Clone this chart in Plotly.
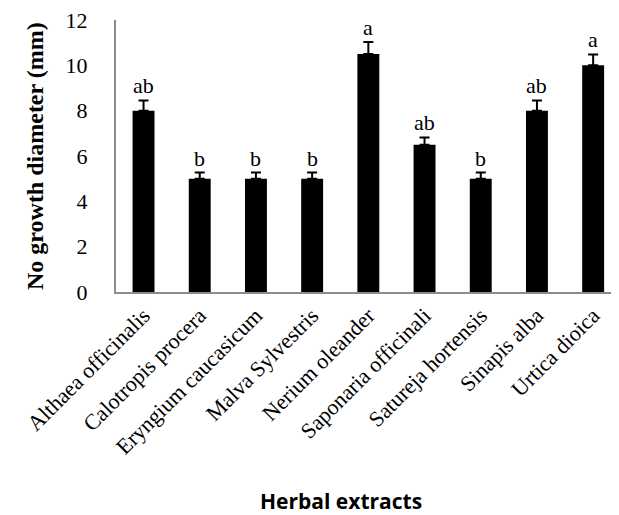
import plotly.graph_objects as go

categories = ["Althaea officinalis", "Calotropis procera", "Eryngium caucasicum",
              "Malva Sylvestris", "Nerium oleander", "Saponaria officinali",
              "Satureja hortensis", "Sinapis alba", "Urtica dioica"]
values = [8.0, 5.0, 5.0, 5.0, 10.5, 6.5, 5.0, 8.0, 10.0]
errors = [0.45, 0.27, 0.27, 0.27, 0.53, 0.32, 0.27, 0.45, 0.48]
letters = ["ab", "b", "b", "b", "a", "ab", "b", "ab", "a"]
y_ticks = [0, 2, 4, 6, 8, 10, 12]

serif = "Liberation Serif, Times New Roman, serif"

fig = go.Figure()
fig.add_trace(go.Bar(
    x=categories, y=values,
    marker=dict(color="black", line=dict(width=0)),
    width=0.39,
    error_y=dict(type="data", array=errors, arrayminus=[0]*len(errors),
                 symmetric=False, color="black", thickness=2, width=5),
    showlegend=False,
))

for c, v, e, t in zip(categories, values, errors, letters):
    fig.add_annotation(x=c, y=v + e, text=t, showarrow=False,
                       yanchor="bottom", yshift=0,
                       font=dict(family=serif, size=22, color="black"))

fig.add_annotation(x=0, xref="paper", y=0.5, yref="paper", xshift=-81,
                   text="<b>No growth diameter (mm)</b>", textangle=-90,
                   showarrow=False, xanchor="center", yanchor="middle",
                   font=dict(family=serif, size=24, color="black"))
fig.add_annotation(x=0.447, xref="paper", y=0, yref="paper", yshift=-209,
                   text="<b>Herbal extracts</b>", showarrow=False,
                   xanchor="center", yanchor="middle",
                   font=dict(family="Open Sans, Lato, sans-serif", size=21, color="black"))

fig.update_layout(
    width=611, height=507,
    margin=dict(l=108, r=0, t=12, b=223),
    plot_bgcolor="white", paper_bgcolor="white",
)
fig.update_xaxes(range=[-0.49, 8.46], showline=True, linecolor="#8c8c8c", linewidth=2,
                 ticks="", tickangle=-45, showgrid=False, automargin=False,
                 ticklabeloverflow="allow",
                 tickfont=dict(family=serif, size=22, color="black"))
fig.update_yaxes(range=[0, 12], tickvals=y_ticks, showline=True, linecolor="#8c8c8c",
                 linewidth=2, ticks="", showgrid=False, zeroline=False,
                 ticklabelstandoff=22, automargin=False, ticklabeloverflow="allow",
                 tickfont=dict(family=serif, size=22, color="black"))

fig.write_html("out.html")
